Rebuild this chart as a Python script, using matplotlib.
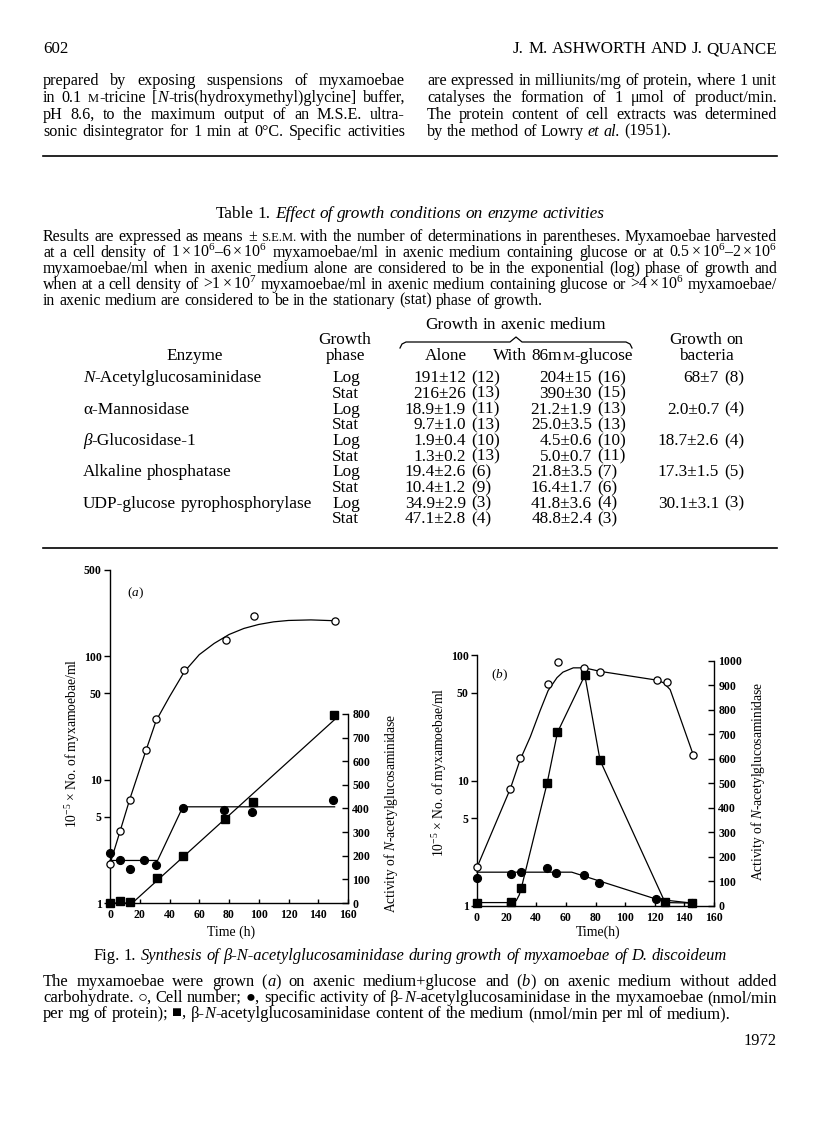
import re
import matplotlib
matplotlib.use('Agg')
import matplotlib.pyplot as plt
from matplotlib.ticker import FixedLocator, NullLocator, FuncFormatter

# ---------------- Fig. 1(a) data ----------------
a_open_t = [0, 7, 13.4, 24, 31, 50, 78, 97, 151]
a_open_v = [2.07, 3.8, 6.9, 17.3, 31, 78, 136, 213, 194]
a_curve_t = [0, 7, 13.4, 24, 31, 40, 50, 60, 70, 80, 90, 100, 110, 120, 135, 151]
a_curve_v = [2.07, 3.9, 7.0, 17, 30, 47, 75, 103, 127, 150, 168, 181, 190, 195, 197, 194]
a_fill_t = [0, 7, 13.4, 23, 31, 49, 76.4, 95.7, 150]
a_fill_v = [210, 184, 143, 183, 159, 402, 395, 383, 435]
a_fline_t = [0, 32, 49, 151]
a_fline_v = [180, 180, 407, 407]
a_sq_t = [0, 7, 13.4, 31.4, 49.3, 77, 96, 150.4]
a_sq_v = [0, 7, 4, 104, 200, 355, 429, 794]
a_sline_t = [0, 15, 151]
a_sline_v = [0, 0, 776]

# ---------------- Fig. 1(b) data ----------------
b_open_t = [0, 22.5, 29, 48, 54.5, 72.5, 83.3, 121.6, 128.6, 146]
b_open_v = [2.03, 8.6, 15, 59, 87.5, 79, 73.6, 63, 61, 16]
b_curve_t = [0, 22.5, 29, 36, 42.6, 48, 54, 58, 65, 72.5, 83.3, 121.6, 126, 130.4, 137, 146]
b_curve_v = [2.03, 8.6, 14.5, 22.3, 36, 52, 66, 73, 79, 79, 74, 63, 60, 53, 32, 16]
b_fill_t = [0, 23, 29.5, 47.5, 53, 72, 82.6, 120.7, 145]
b_fill_v = [114, 130, 138, 153, 134, 126, 94, 29, 12]
b_fline_t = [0, 64, 121, 145]
b_fline_v = [138, 138, 28, 12]
b_sq_t = [0, 23, 29.7, 47.3, 54.3, 72.8, 83.1, 127, 145]
b_sq_v = [14, 16, 75, 500, 708, 941, 594, 16, 12]
b_sline_t = [0, 24, 26.5, 28.5, 30, 47.3, 54.3, 72.8, 83.1, 127, 145]
b_sline_v = [14, 14, 22, 45, 75, 500, 708, 941, 594, 14, 12]

x_ticks = [0, 20, 40, 60, 80, 100, 120, 140, 160]
a_left_ticks = [1, 5, 10, 50, 100, 500]
a_right_ticks = [0, 100, 200, 300, 400, 500, 600, 700, 800]
b_left_ticks = [1, 5, 10, 50, 100]
b_right_ticks = [0, 100, 200, 300, 400, 500, 600, 700, 800, 900, 1000]

# ---------------- Table 1 data ----------------
enzymes = ["{i:N}-Acetylglucosaminidase", "α-Mannosidase", "{i:β}-Glucosidase-1",
           "Alkaline phosphatase", "UDP-glucose pyrophosphorylase"]
alone_log = ["191±12", "18.9±1.9", "1.9±0.4", "19.4±2.6", "34.9±2.9"]
alone_log_n = ["(12)", "(11)", "(10)", "(6)", "(3)"]
alone_stat = ["216±26", "9.7±1.0", "1.3±0.2", "10.4±1.2", "47.1±2.8"]
alone_stat_n = ["(13)", "(13)", "(13)", "(9)", "(4)"]
glc_log = ["204±15", "21.2±1.9", "4.5±0.6", "21.8±3.5", "41.8±3.6"]
glc_log_n = ["(16)", "(13)", "(10)", "(7)", "(4)"]
glc_stat = ["390±30", "25.0±3.5", "5.0±0.7", "16.4±1.7", "48.8±2.4"]
glc_stat_n = ["(15)", "(13)", "(11)", "(6)", "(3)"]
bact_log = ["68±7", "2.0±0.7", "18.7±2.6", "17.3±1.5", "30.1±3.1"]
bact_log_n = ["(8)", "(4)", "(4)", "(5)", "(3)"]

# ---------------- setup ----------------
plt.rcParams['font.family'] = ['Liberation Serif', 'DejaVu Serif']
plt.rcParams['mathtext.fontset'] = 'custom'
plt.rcParams['mathtext.rm'] = 'Liberation Serif'
plt.rcParams['mathtext.it'] = 'Liberation Serif:italic'
plt.rcParams['mathtext.bf'] = 'Liberation Serif:bold'

W, H = 816, 1136
fig = plt.figure(figsize=(W / 100, H / 100), dpi=100)
page = fig.add_axes([0, 0, 1, 1])
page.set_xlim(0, W)
page.set_ylim(H, 0)
page.axis('off')
R = fig.canvas.get_renderer()

_cache = {}


def seg_kw(style, size):
    kw = dict(fontsize=size, color='black')
    if style == 'i':
        kw['fontstyle'] = 'italic'
    if style == 's':
        kw['fontsize'] = size * 0.78
    return kw


def seg_w(txt, style, size):
    key = (txt, style, round(size, 3))
    if key not in _cache:
        t = page.text(0, 0, txt.upper() if style == 's' else txt, **seg_kw(style, size))
        _cache[key] = t.get_window_extent(renderer=R).width
        t.remove()
    return _cache[key]


def space_w(size):
    return seg_w('x x', 'r', size) - seg_w('xx', 'r', size)


def parse(line):
    toks = re.split(r'(\{[a-z]+:[^}]*\})', line)
    words = [[]]
    for tok in toks:
        if not tok:
            continue
        if tok.startswith('{'):
            style, txt = tok[1:-1].split(':', 1)
        else:
            style, txt = 'r', tok
        parts = txt.split(' ')
        for k, p in enumerate(parts):
            if k > 0:
                words.append([])
            if p:
                words[-1].append((p, style))
    return [w for w in words if w]


def nat_width(line, size):
    words = parse(line)
    return sum(seg_w(t, s, size) for w in words for t, s in w) + space_w(size) * (len(words) - 1)


def draw_rich(x0, x1, y, line, size, align='justify'):
    words = parse(line)
    ws = [sum(seg_w(t, s, size) for t, s in w) for w in words]
    sp = space_w(size)
    nat = sum(ws) + sp * (len(words) - 1)
    gap = sp
    if align == 'justify' and len(words) > 1:
        gap = (x1 - x0 - sum(ws)) / (len(words) - 1)
        x = x0
    elif align == 'left':
        x = x0
    elif align == 'right':
        x = x1 - nat
    else:
        x = x0 - nat / 2
    base = y + 0.3 * size * 100 / 72
    for w, wd in zip(words, ws):
        xx = x
        for t, s in w:
            page.text(xx, base, t.upper() if s == 's' else t, va='baseline', ha='left',
                      **seg_kw(s, size))
            xx += seg_w(t, s, size)
        x += wd + gap


def fit_size(lines, width, base=10.0):
    return base * min(width / nat_width(l, base) for l in lines)


def draw_block(x0, x1, ys, lines, size, last_left=True):
    for k, (y, l) in enumerate(zip(ys, lines)):
        last = (k == len(lines) - 1) and last_left
        draw_rich(x0, x1, y, l, size, 'left' if last else 'justify')


def fit_label(s, length, **kw):
    t = page.text(0, 0, s, fontsize=10, **kw)
    w = t.get_window_extent(renderer=R).width
    t.remove()
    return 10 * length / w


# ---------------- header + top paragraph ----------------
left_col = [
    "prepared by exposing suspensions of myxamoebae",
    "in 0.1 {s:m}-tricine [{i:N}-tris(hydroxymethyl)glycine] buffer,",
    "pH 8.6, to the maximum output of an M.S.E. ultra-",
    "sonic disintegrator for 1 min at 0°C. Specific activities",
]
right_col = [
    "are expressed in milliunits/mg of protein, where 1 unit",
    "catalyses the formation of 1 μmol of product/min.",
    "The protein content of cell extracts was determined",
    "by the method of Lowry {i:et al.} (1951).",
]
body = min(fit_size(left_col, 362), fit_size(right_col[:3], 350))
draw_rich(43, 43, 48, "602", body * 1.05, 'left')
draw_rich(777, 777, 48, "J. M. ASHWORTH AND J. QUANCE", body * 1.05, 'right')
top_ys = [80, 97, 114, 131]
draw_block(43, 405, top_ys, left_col, body, last_left=False)
draw_block(427, 777, top_ys, right_col, body, last_left=True)
page.plot([43, 777], [156, 156], color='black', lw=1.2)

# ---------------- Table 1 ----------------
tpara = [
    "Results are expressed as means ± {s:s.e.m.} with the number of determinations in parentheses. Myxamoebae harvested",
    "at a cell density of $1\\times10^6$–$6\\times10^6$ myxamoebae/ml in axenic medium containing glucose or at $0.5\\times10^6$–$2\\times10^6$",
    "myxamoebae/ml when in axenic medium alone are considered to be in the exponential (log) phase of growth and",
    "when at a cell density of >$1\\times10^7$ myxamoebae/ml in axenic medium containing glucose or >$4\\times10^6$ myxamoebae/",
    "in axenic medium are considered to be in the stationary (stat) phase of growth.",
]
tsize = fit_size(tpara[:4], 734)
rsize = tsize * 1.08
draw_rich(410, 410, 213, "Table 1. {i:Effect of growth conditions on enzyme activities}", rsize, 'center')
draw_block(43, 777, [236, 252, 268, 284, 300], tpara, tsize)

draw_rich(516, 516, 324, "Growth in axenic medium", rsize, 'center')
bx = [400, 402, 406, 510, 516, 522, 626, 630, 632]
by = [348, 344, 342, 342, 337, 342, 342, 344, 348]
page.plot(bx, by, color='black', lw=0.9)
draw_rich(345, 345, 339, "Growth", rsize, 'center')
draw_rich(345, 345, 355, "phase", rsize, 'center')
draw_rich(195, 195, 355, "Enzyme", rsize, 'center')
draw_rich(446, 446, 355, "Alone", rsize, 'center')
draw_rich(563, 563, 355, "With 86m{s:m}-glucose", rsize, 'center')
draw_rich(706, 706, 339, "Growth on", rsize, 'center')
draw_rich(706, 706, 355, "bacteria", rsize, 'center')

row_y0, row_dy = 377, 15.7


def cell(xr, y, val, n):
    draw_rich(xr, xr, y, val, rsize, 'right')
    draw_rich(xr + 5, xr + 5, y, n, rsize, 'left')


for i in range(len(enzymes)):
    y1 = row_y0 + 2 * i * row_dy
    y2 = y1 + row_dy
    draw_rich(83, 83, y1, enzymes[i], rsize, 'left')
    draw_rich(332, 332, y1, "Log", rsize, 'left')
    draw_rich(332, 332, y2, "Stat", rsize, 'left')
    cell(466, y1, alone_log[i], alone_log_n[i])
    cell(466, y2, alone_stat[i], alone_stat_n[i])
    cell(592, y1, glc_log[i], glc_log_n[i])
    cell(592, y2, glc_stat[i], glc_stat_n[i])
    cell(719, y1, bact_log[i], bact_log_n[i])
page.plot([43, 777], [548, 548], color='black', lw=1.2)

# ---------------- charts ----------------
tick_fs = 8.5


def px_axes(l, r, t, b):
    return fig.add_axes([l / W, 1 - b / H, (r - l) / W, (b - t) / H])


def chart(l, r, t, b, ymax, lticks, rlim, rticks, rtop):
    ax = px_axes(l, r, t, b)
    ax.patch.set_alpha(0)
    ax.set_yscale('log')
    ax.set_ylim(1, ymax)
    ax.set_xlim(0, 160)
    ax.yaxis.set_major_locator(FixedLocator(lticks))
    ax.yaxis.set_minor_locator(NullLocator())
    ax.yaxis.set_major_formatter(FuncFormatter(lambda v, p: '%d' % round(v)))
    ax.xaxis.set_major_locator(FixedLocator(x_ticks))
    for s in ('top', 'right'):
        ax.spines[s].set_visible(False)
    for s in ('left', 'bottom'):
        ax.spines[s].set_linewidth(1.0)
    ax.tick_params(axis='y', direction='out', length=4, width=1.0, labelsize=tick_fs, pad=2)
    ax.tick_params(axis='x', direction='in', length=3, width=1.0, labelsize=tick_fs, pad=4)
    ax2 = ax.twinx()
    ax2.set_ylim(0, rlim)
    ax2.yaxis.set_major_locator(FixedLocator(rticks))
    for s in ('top', 'left', 'bottom'):
        ax2.spines[s].set_visible(False)
    ax2.spines['right'].set_bounds(0, rtop)
    ax2.spines['right'].set_linewidth(1.0)
    ax2.tick_params(axis='y', direction='in', length=4, width=1.0, labelsize=tick_fs, pad=3)
    for lab in ax.get_xticklabels() + ax.get_yticklabels() + ax2.get_yticklabels():
        lab.set_fontweight('bold')
    return ax, ax2


line_kw = dict(color='black', lw=0.9, clip_on=False)
open_kw = dict(ls='none', marker='o', ms=5.2, mfc='white', mec='black', mew=0.9, clip_on=False, zorder=5)
fill_kw = dict(ls='none', marker='o', ms=5.6, mfc='black', mec='black', clip_on=False, zorder=5)
sq_kw = dict(ls='none', marker='s', ms=5.2, mfc='black', mec='black', clip_on=False, zorder=5)

# (a)
axa, axa2 = chart(110, 348, 570, 903, 500, a_left_ticks, 1409, a_right_ticks, 800)
axa.plot(a_curve_t, a_curve_v, **line_kw)
axa.plot(a_open_t, a_open_v, **open_kw)
axa2.plot(a_fline_t, a_fline_v, **line_kw)
axa2.plot(a_sline_t, a_sline_v, **line_kw)
axa2.plot(a_fill_t, a_fill_v, **fill_kw)
axa2.plot(a_sq_t, a_sq_v, **sq_kw)

# (b)
axb, axb2 = chart(477, 714, 655, 906, 100, b_left_ticks, 1024, b_right_ticks, 1000)
axb.plot(b_curve_t, b_curve_v, **line_kw)
axb.plot(b_open_t, b_open_v, **open_kw)
axb2.plot(b_fline_t, b_fline_v, **line_kw)
axb2.plot(b_sline_t, b_sline_v, **line_kw)
axb2.plot(b_fill_t, b_fill_v, **fill_kw)
axb2.plot(b_sq_t, b_sq_v, **sq_kw)

# chart labels
ylab = "10$^{-5}$ × No. of myxamoebae/ml"
rlab = "Activity of $\\mathit{N}$-acetylglucosaminidase"
ys = fit_label(ylab, 170)
rs = fit_label(rlab, 200)
page.text(73, 743, ylab, rotation=90, ha='center', va='center', fontsize=ys)
page.text(440, 772, ylab, rotation=90, ha='center', va='center', fontsize=ys)
page.text(391, 813, rlab, rotation=90, ha='center', va='center', fontsize=rs)
page.text(758, 781, rlab, rotation=90, ha='center', va='center', fontsize=rs)
xs = fit_label("Time (h)", 48)
page.text(231, 932, "Time (h)", ha='center', va='center', fontsize=xs)
page.text(598, 932, "Time(h)", ha='center', va='center', fontsize=xs)
page.text(135, 593, "($\\mathit{a}$)", ha='center', va='center', fontsize=tick_fs + 1)
page.text(499, 675, "($\\mathit{b}$)", ha='center', va='center', fontsize=tick_fs + 1)

# ---------------- caption ----------------
cap = [
    "The myxamoebae were grown ({i:a}) on axenic medium+glucose and ({i:b}) on axenic medium without added",
    "carbohydrate. ○, Cell number; ●, specific activity of β-{i:N}-acetylglucosaminidase in the myxamoebae (nmol/min",
    "per mg of protein); ■, β-{i:N}-acetylglucosaminidase content of the medium (nmol/min per ml of medium).",
]
csize = fit_size(cap[1:2], 734)
draw_rich(410, 410, 955, "Fig. 1. {i:Synthesis of β-N-acetylglucosaminidase during growth of myxamoebae of D. discoideum}",
          csize, 'center')
draw_block(43, 777, [981, 997, 1013], cap, csize)
draw_rich(777, 777, 1040, "1972", csize, 'right')

fig.savefig('out.png', dpi=100)
